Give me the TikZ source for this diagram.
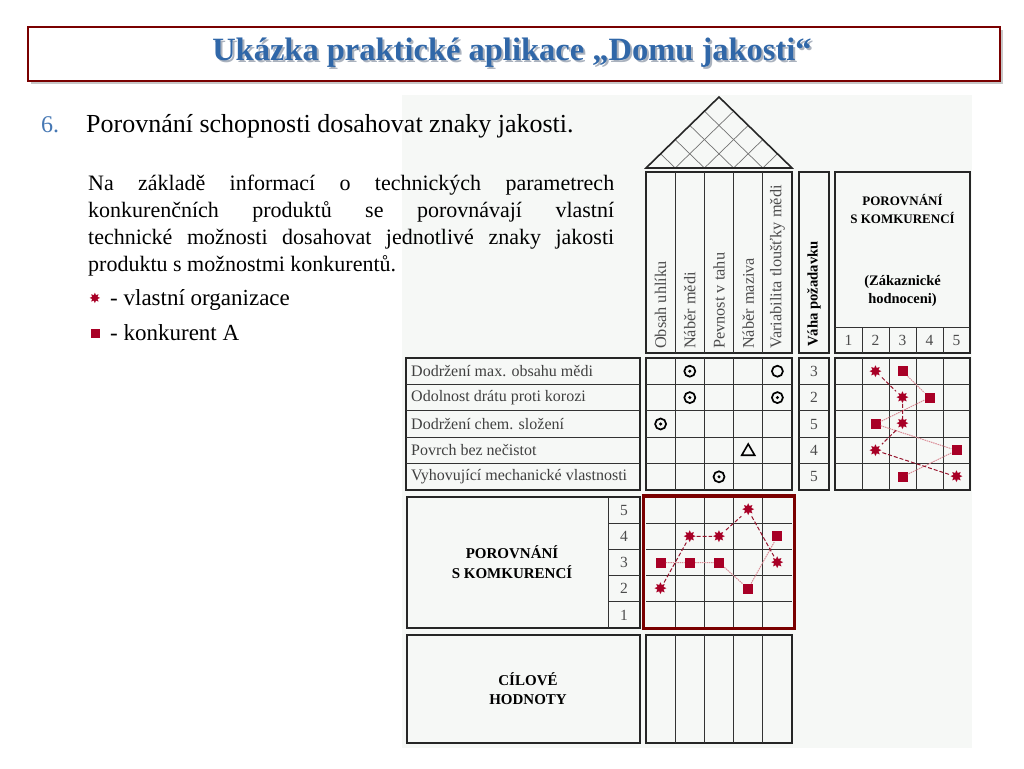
\documentclass[tikz,border=0pt]{standalone}
\usepackage{fontspec}
\setmainfont{Liberation Serif}
\newfontfamily\dejavu{DejaVu Sans}
\usetikzlibrary{shapes.geometric, positioning}
\definecolor{framered}{RGB}{122,0,0}
\definecolor{titleblue}{RGB}{48,103,168}
\definecolor{shadowgray}{RGB}{170,178,190}
\definecolor{numblue}{RGB}{70,120,180}
\definecolor{markred}{RGB}{168,0,38}
\definecolor{ownline}{RGB}{150,20,45}
\definecolor{compline}{RGB}{218,140,150}
\definecolor{diagbg}{RGB}{246,248,246}
\tikzset{
  boxframe/.style ={draw=black!85, line width=2pt},
  gridln/.style   ={draw=black!80, line width=0.8pt},
  roofln/.style   ={draw=black!55, line width=0.7pt},
  colhead/.style  ={rotate=90, anchor=west, inner sep=0pt, text=black!70,
                    font=\fontsize{16.3}{17}\selectfont},
  rowhead/.style  ={anchor=west, inner sep=0pt, text=black!75,
                    font=\fontsize{16}{17}\selectfont},
  cellnum/.style  ={inner sep=0pt, text=black!70, font=\fontsize{15.5}{16}\selectfont},
  caps/.style     ={align=center, inner sep=0pt, font=\fontsize{13}{18}\selectfont\bfseries},
  ownmark/.style  ={inner sep=0pt, text=markred, font=\dejavu\fontsize{16}{16}\selectfont},
  compmark/.style ={rectangle, fill=markred, inner sep=0pt, minimum size=10pt},
  strong/.style   ={circle, draw, line width=1.7pt, inner sep=0pt, minimum size=11pt},
  weak/.style     ={circle, draw, line width=1.7pt, inner sep=0pt, minimum size=11pt},
  medium/.style   ={regular polygon, regular polygon sides=3, draw, line width=1.6pt,
                    inner sep=0pt, minimum size=15pt},
  ownpath/.style  ={draw=ownline, line width=1pt, dash pattern=on 4pt off 2pt},
  comppath/.style ={draw=compline, line width=1pt, dash pattern=on 1.5pt off 0.8pt},
  bodytext/.style ={anchor=base west, inner sep=0pt, font=\fontsize{22}{27}\selectfont},
}

\begin{document}
\begin{tikzpicture}[x=1pt, y=-1pt]
  \useasboundingbox[fill=white] (0,0) rectangle (1024,768);

  % title bar
  \fill[black!22] (31,30) rectangle (1003,84);
  \draw[framered, line width=2.2pt, fill=white] (28,27) rectangle (1000,81);
  \node[text=shadowgray, font=\fontsize{32.5}{33}\selectfont\bfseries] (titleshadow) at (514,55)
    {Ukázka praktické aplikace „Domu jakosti“};
  \node[text=titleblue, font=\fontsize{32.5}{33}\selectfont\bfseries] (title) at (512,53)
    {Ukázka praktické aplikace „Domu jakosti“};

  % picture background
  \fill[diagbg] (402,95) rectangle (972,748);

  % text on the left
  \node[bodytext, text=numblue, font=\fontsize{24}{24}\selectfont] (num) at (41,132) {6.};
  \node[bodytext, font=\fontsize{26}{26}\selectfont] (heading) at (86,132)
    {Porovnání schopnosti dosahovat znaky jakosti.};
  \node[bodytext] (par1) at (88,190) {\makebox[526pt][s]{Na základě informací o technických parametrech}};
  \node[bodytext] (par2) at (88,217) {\makebox[526pt][s]{konkurenčních produktů se porovnávají vlastní}};
  \node[bodytext] (par3) at (88,244) {\makebox[526pt][s]{technické možnosti dosahovat jednotlivé znaky jakosti}};
  \node[bodytext] (par4) at (88,271) {produktu s možnostmi konkurentů.};
  \node[ownmark, font=\dejavu\fontsize{14}{14}\selectfont] (legown) at (95,298) {✸};
  \node[bodytext, font=\fontsize{23}{23}\selectfont] (legowntext) at (110,305) {- vlastní organizace};
  \node[compmark, minimum size=9pt] (legcomp) at (95,333) {};
  \node[bodytext, font=\fontsize{23}{23}\selectfont] (legcomptext) at (110,340) {- konkurent A};

  % roof
  \begin{scope}
    \clip (646,168) -- (719,97) -- (792,168) -- cycle;
    \foreach \k in {1,...,4} {
      \draw[roofln] (646+29.2*\k,168) -- ++(100,-97.3);
      \draw[roofln] (646+29.2*\k,168) -- ++(-100,-97.3);
    }
  \end{scope}
  \draw[boxframe, line width=1.6pt] (646,168) -- (719,97) -- (792,168) -- cycle;

  % column headers
  \draw[boxframe] (646,172) rectangle (792,353);
  \foreach \k in {1,...,4} \draw[gridln] (646+29.2*\k,172) -- (646+29.2*\k,353);
  \node[colhead] (col1) at (660.6,349) {Obsah uhlíku};
  \node[colhead] (col2) at (689.8,349) {Náběr mědi};
  \node[colhead] (col3) at (719.0,349) {Pevnost v tahu};
  \node[colhead] (col4) at (748.2,349) {Náběr maziva};
  \node[colhead] (col5) at (777.4,349) {Variabilita tloušťky mědi};

  \draw[boxframe] (799,172) rectangle (829,353);
  \node[colhead, text=black, font=\fontsize{14.7}{15}\selectfont\bfseries] (weight) at (814,347) {Váha požadavku};

  \draw[boxframe] (835,172) rectangle (970,353);
  \draw[gridln] (835,327) -- (970,327);
  \foreach \k in {1,...,4} \draw[gridln] (835+27*\k,327) -- (835+27*\k,353);
  \node[caps] (cmphead) at (902.5,209) {POROVNÁNÍ\\S KOMKURENCÍ};
  \node[caps, font=\fontsize{14.5}{18}\selectfont\bfseries] (cmpsub) at (902.5,291) {(Zákaznické\\hodnoceni)};
  \foreach \k in {1,...,5} \node[cellnum] (scale\k) at (821.5+27*\k,340) {\k};

  % requirement rows
  \draw[boxframe] (406,358) rectangle (640,490);
  \draw[boxframe] (646,358) rectangle (792,490);
  \draw[boxframe] (799,358) rectangle (829,490);
  \draw[boxframe] (835,358) rectangle (970,490);
  \foreach \r in {1,...,4} {
    \draw[gridln] (406,358+26.4*\r) -- (640,358+26.4*\r);
    \draw[gridln] (646,358+26.4*\r) -- (792,358+26.4*\r);
    \draw[gridln] (799,358+26.4*\r) -- (829,358+26.4*\r);
    \draw[gridln] (835,358+26.4*\r) -- (970,358+26.4*\r);
    \draw[gridln] (646+29.2*\r,358) -- (646+29.2*\r,490);
    \draw[gridln] (835+27*\r,358) -- (835+27*\r,490);
  }
  \node[rowhead] (req1) at (411,371.2) {Dodržení max. obsahu mědi};
  \node[rowhead] (req2) at (411,397.6) {Odolnost drátu proti korozi};
  \node[rowhead] (req3) at (411,424.0) {Dodržení chem. složení};
  \node[rowhead] (req4) at (411,450.4) {Povrch bez nečistot};
  \node[rowhead] (req5) at (411,476.8) {Vyhovující mechanické vlastnosti};
  \node[cellnum] (w1) at (814,371.2) {3};
  \node[cellnum] (w2) at (814,397.6) {2};
  \node[cellnum] (w3) at (814,424.0) {5};
  \node[cellnum] (w4) at (814,450.4) {4};
  \node[cellnum] (w5) at (814,476.8) {5};

  % relationships
  \node[strong] (s1) at (689.8,371.2) {};
  \node[weak]   (s0) at (777.4,371.2) {};
  \node[strong] (s2) at (689.8,397.6) {};
  \node[strong] (s3) at (777.4,397.6) {};
  \node[strong] (s4) at (660.6,424.0) {};
  \node[medium] (m1) at (748.2,451.5) {};
  \node[strong] (s5) at (719.0,476.8) {};
  \foreach \i in {1,...,5} \fill (s\i) circle (1.7pt);

  % customer comparison
  \node[ownmark]  (ro1) at (875.5,371.2) {✸};
  \node[ownmark]  (ro2) at (902.5,397.6) {✸};
  \node[ownmark]  (ro3) at (902.5,424.0) {✸};
  \node[ownmark]  (ro4) at (875.5,450.4) {✸};
  \node[ownmark]  (ro5) at (956.5,476.8) {✸};
  \node[compmark] (rc1) at (902.5,371.2) {};
  \node[compmark] (rc2) at (929.5,397.6) {};
  \node[compmark] (rc3) at (875.5,424.0) {};
  \node[compmark] (rc4) at (956.5,450.4) {};
  \node[compmark] (rc5) at (902.5,476.8) {};
  \draw[comppath] (rc1) -- (rc2) -- (rc3) -- (rc4) -- (rc5);
  \draw[ownpath] (ro1) -- (ro2) -- (ro3) -- (ro4) -- (ro5);

  % technical comparison
  \draw[boxframe] (407,497) rectangle (640,628);
  \draw[gridln] (608,497) -- (608,628);
  \foreach \r in {1,...,4} {
    \draw[gridln] (608,497+26.2*\r) -- (640,497+26.2*\r);
    \draw[gridln] (646,497+26.2*\r) -- (792,497+26.2*\r);
    \draw[gridln] (646+29.2*\r,497) -- (646+29.2*\r,628);
  }
  \foreach \v in {1,...,5} \node[cellnum] (lvl\v) at (624,497+26.2*5.5-26.2*\v) {\v};
  \draw[framered, line width=3.6pt] (643.5,496) rectangle (794.5,628.5);
  \node[caps, font=\fontsize{15}{20}\selectfont\bfseries] (techcmp) at (512,562) {POROVNÁNÍ\\S KOMKURENCÍ};

  \node[ownmark]  (bo1) at (660.6,588.7) {✸};
  \node[ownmark]  (bo2) at (689.8,536.3) {✸};
  \node[ownmark]  (bo3) at (719.0,536.3) {✸};
  \node[ownmark]  (bo4) at (748.2,510.1) {✸};
  \node[ownmark]  (bo5) at (777.4,562.5) {✸};
  \node[compmark] (bc1) at (660.6,562.5) {};
  \node[compmark] (bc2) at (689.8,562.5) {};
  \node[compmark] (bc3) at (719.0,562.5) {};
  \node[compmark] (bc4) at (748.2,588.7) {};
  \node[compmark] (bc5) at (777.4,536.3) {};
  \draw[comppath] (bc1) -- (bc2) -- (bc3) -- (bc4) -- (bc5);
  \draw[ownpath] (bo1) -- (bo2) -- (bo3) -- (bo4) -- (bo5);

  % target values
  \draw[boxframe] (407,635) rectangle (640,743);
  \draw[boxframe] (646,635) rectangle (792,743);
  \foreach \k in {1,...,4} \draw[gridln] (646+29.2*\k,635) -- (646+29.2*\k,743);
  \node[caps, font=\fontsize{15}{19}\selectfont\bfseries] (target) at (528,689) {CÍLOVÉ\\HODNOTY};
\end{tikzpicture}
\end{document}
